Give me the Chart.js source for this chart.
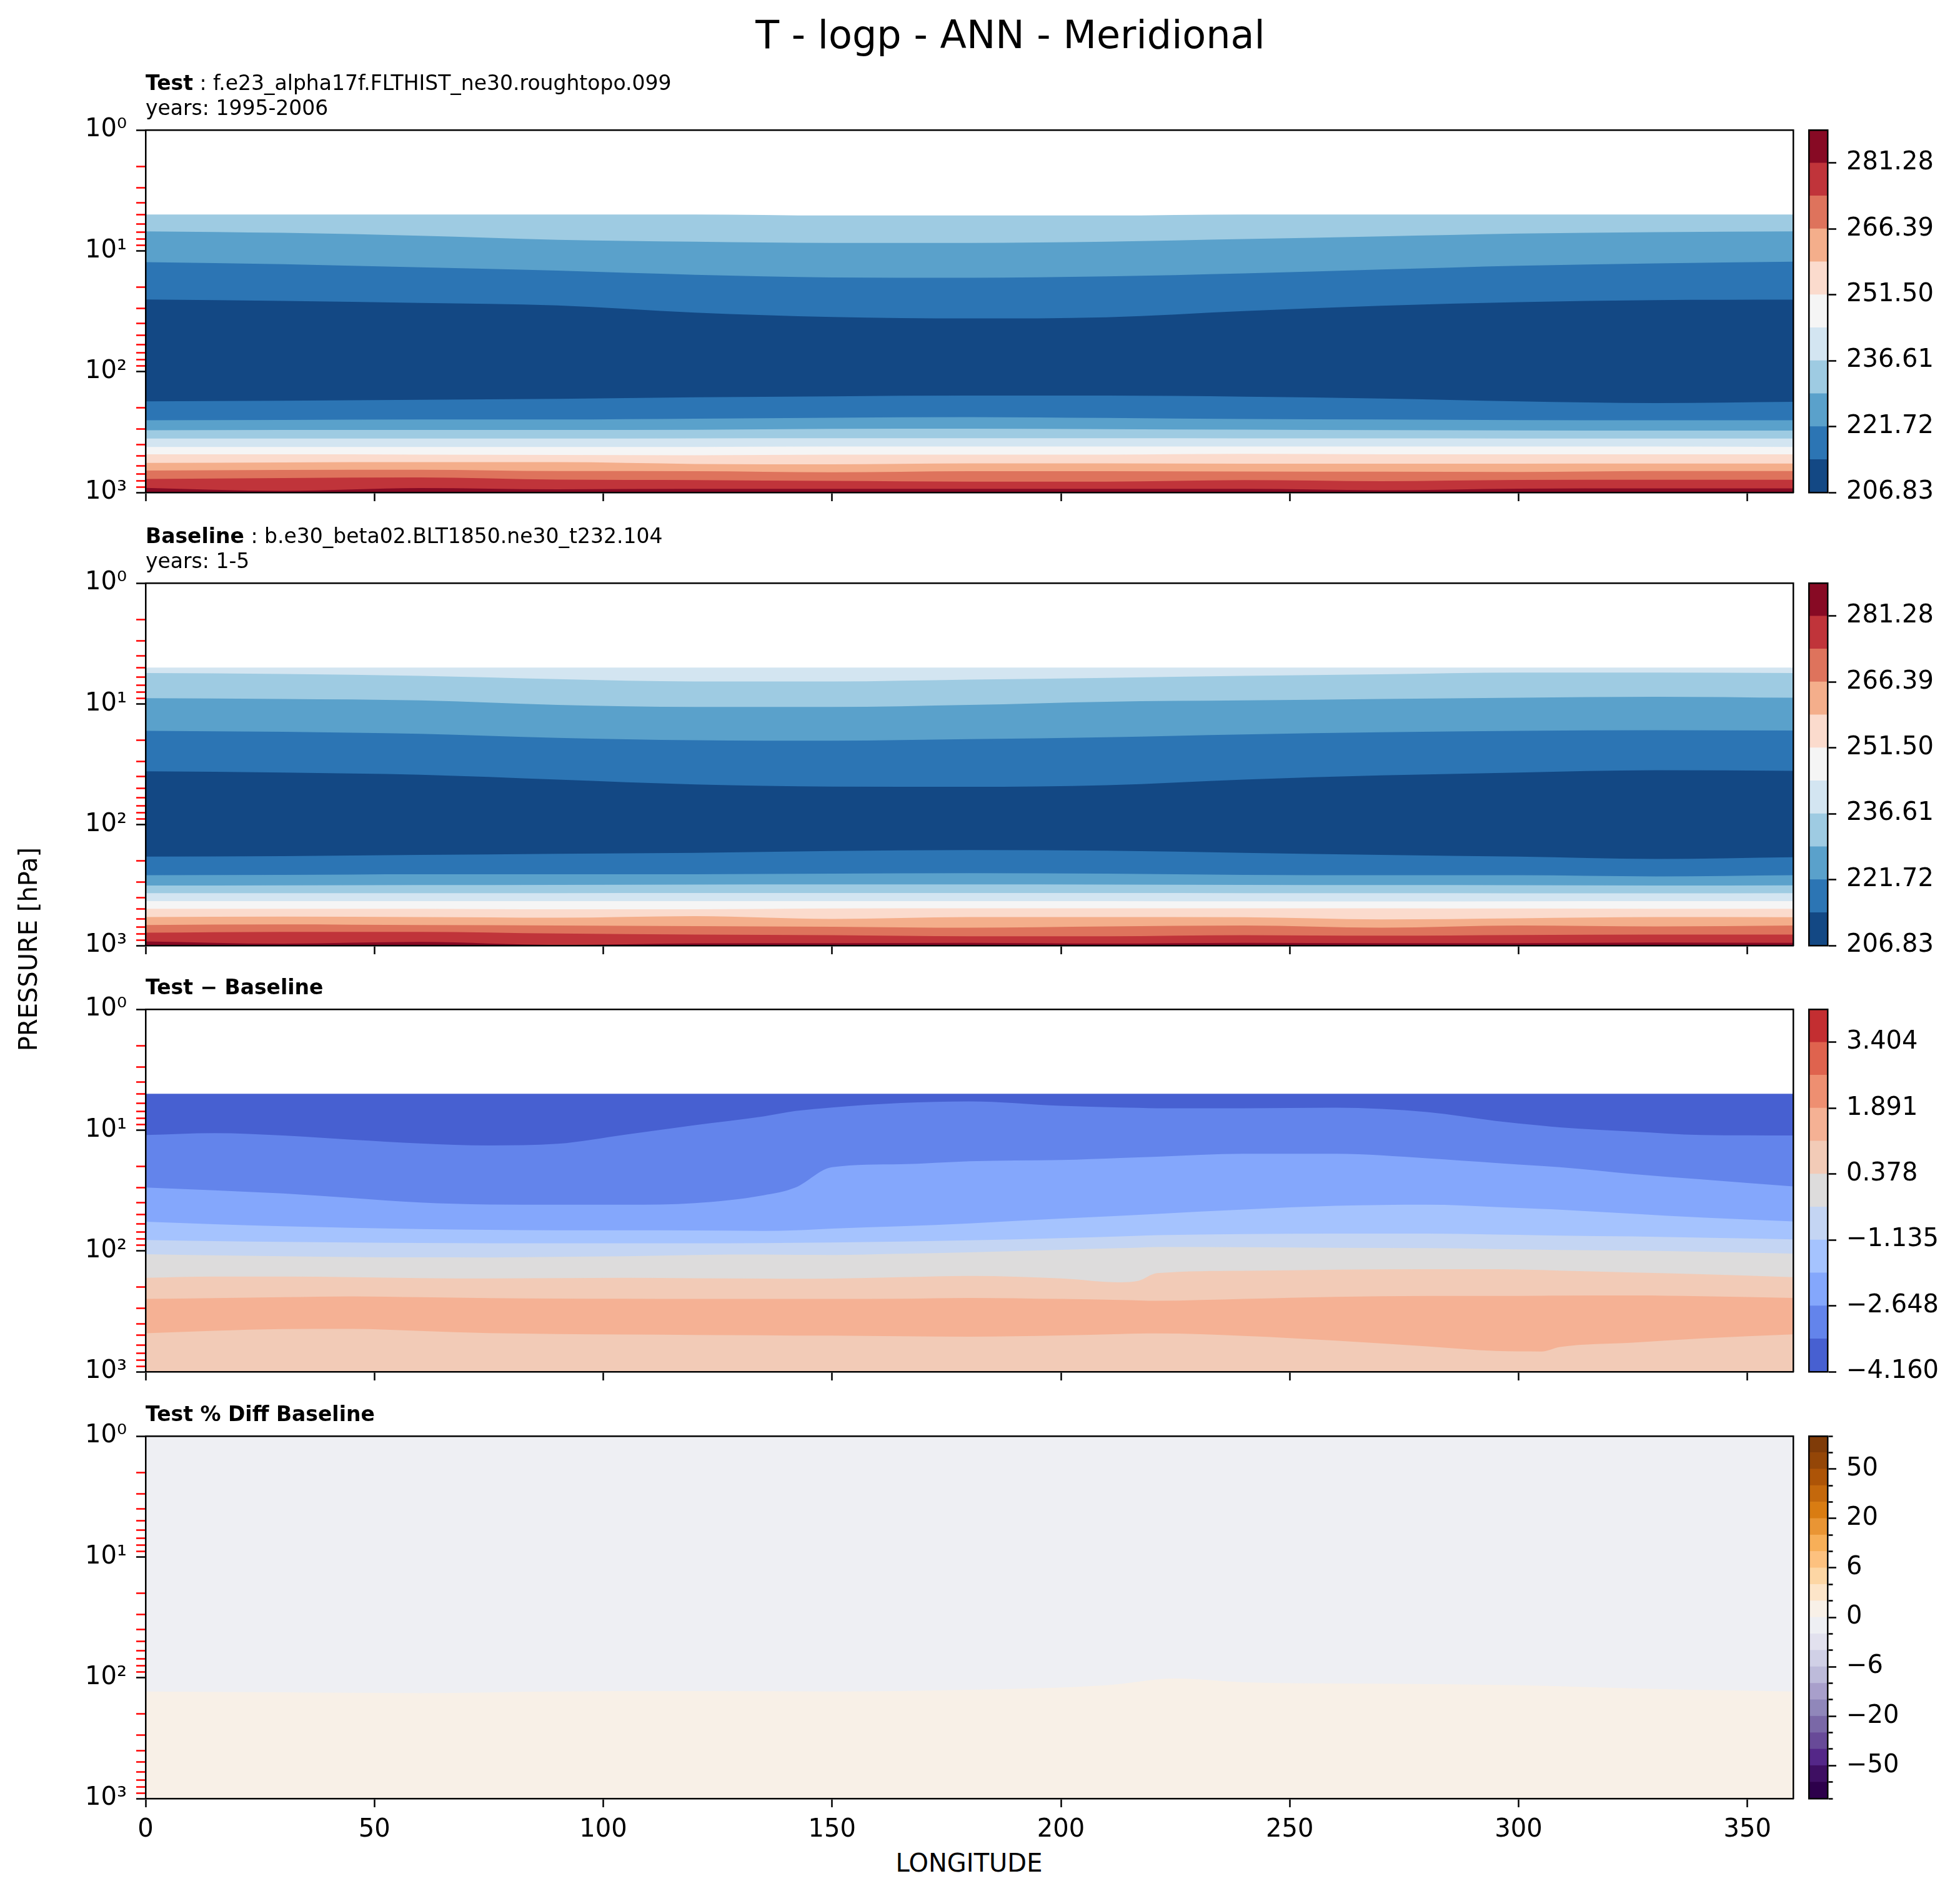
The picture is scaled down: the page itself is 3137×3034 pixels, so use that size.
<!DOCTYPE html>
<html>
<head>
<meta charset="utf-8">
<script src="https://cdn.jsdelivr.net/npm/chart.js@4/dist/chart.umd.min.js"></script>
<style>
  body { margin: 0; background: #fff; font-family: 'DejaVu Sans', sans-serif; }
  #fig { position: relative; width: 3137px; height: 3034px; overflow: hidden; background: #fff; }
  .txt { position: absolute; white-space: nowrap; color: #000; z-index: 5; }
  .sub { font-size: 33px; line-height: 40px; }
</style>
</head>
<body>
<div id="fig">
  <div class="txt" style="left:117px;width:3000px;top:25px;font-size:62px;line-height:62px;text-align:center">T - logp - ANN - Meridional</div>
  <div class="txt sub" style="left:233px;top:113px"><b>Test</b> : f.e23_alpha17f.FLTHIST_ne30.roughtopo.099<br>years: 1995-2006</div>
  <div class="txt sub" style="left:233px;top:838px"><b>Baseline</b> : b.e30_beta02.BLT1850.ne30_t232.104<br>years: 1-5</div>
  <div class="txt sub" style="left:233px;top:1560px"><b>Test &minus; Baseline</b></div>
  <div class="txt sub" style="left:233px;top:2243px"><b>Test % Diff Baseline</b></div>
  <div class="txt" style="left:1251px;width:600px;text-align:center;top:2961px;font-size:40px;line-height:40px">LONGITUDE</div>
  <div class="txt" style="left:-255px;width:600px;text-align:center;top:1499px;font-size:40px;line-height:40px;transform:rotate(-90deg)">PRESSURE [hPa]</div>
</div>
<script>
// sampled longitudes of the contour boundaries
const lonA = [0, 30, 60, 90, 120, 150, 180, 210, 240, 270, 300, 330, 360]
const lonD = [0, 15, 30, 45, 60, 75, 90, 105, 120, 135, 142, 150, 165, 180, 200, 213, 217, 221, 240, 260, 280, 295, 305, 309, 325, 340, 360]
const lonP = [0, 30, 60, 90, 120, 150, 180, 210, 225, 240, 270, 300, 330, 360]
const lonTicks = [0, 50, 100, 150, 200, 250, 300, 350]
const pressureDecades = [1, 10, 100, 1000]

// upper edge (hPa) of each filled band, top band first
const testBounds = [
  [5, 5, 5, 5, 5, 5.1, 5.1, 5.1, 5, 5, 5, 5, 5],
  [6.9, 7.1, 7.5, 8.1, 8.4, 8.6, 8.6, 8.4, 8.0, 7.6, 7.2, 7.0, 6.9],
  [12.4, 12.9, 13.7, 14.6, 15.8, 16.6, 16.7, 16.3, 15.4, 14.3, 13.3, 12.7, 12.3],
  [25.3, 26.0, 27.0, 28.3, 32.5, 35.3, 36.3, 35.5, 31.5, 28.5, 26.6, 25.6, 25.4],
  [176, 174, 171, 168, 163, 160, 158, 158, 161, 167, 176, 182, 178],
  [253, 251, 249, 249, 245, 241, 238, 242, 247, 249, 252, 253, 253],
  [306, 304, 304, 304, 303, 298, 297, 299, 302, 305, 307, 308, 308],
  [358, 358, 358, 358, 357, 356, 356, 356, 357, 357, 358, 358, 358],
  [420, 420, 420, 420, 420, 417, 417, 417, 417, 417, 417, 417, 420],
  [484, 484, 486, 490, 492, 487, 486, 486, 480, 484, 484, 484, 484],
  [570, 564, 562, 562, 581, 585, 575, 575, 578, 578, 578, 577, 577],
  [659, 652, 649, 666, 667, 682, 668, 667, 672, 674, 677, 666, 666],
  [773, 760, 752, 784, 790, 803, 814, 814, 790, 806, 788, 786, 786],
  [916, 970, 920, 942, 935, 935, 935, 935, 935, 960, 930, 925, 925]
]
const testColors = ['#9ecbe2', '#5aa1cb', '#2c75b4', '#134884', '#2c75b4', '#5aa1cb', '#9ecbe2', '#d3e5f1', '#f5f5f5', '#fbdbcd', '#f4ae8b', '#de735c', '#c0343a', '#870a24']

const baseBounds = [
  [5, 5, 5, 5, 5, 5, 5, 5, 5, 5, 5, 5, 5],
  [5.56, 5.65, 5.87, 6.25, 6.53, 6.53, 6.3, 6.09, 5.87, 5.69, 5.5, 5.5, 5.56],
  [8.97, 9.1, 9.37, 10.2, 10.6, 10.6, 10.2, 9.6, 9.37, 9.1, 8.9, 8.73, 8.9],
  [16.7, 17.0, 17.7, 19.1, 20.0, 20.2, 19.6, 18.9, 17.9, 17.2, 16.7, 16.5, 16.6],
  [36.2, 37, 38.6, 42.3, 46.4, 48.4, 48.6, 47.1, 42.3, 39.1, 37, 35.4, 35.8],
  [184, 182, 178, 174, 171, 165, 162, 164, 171, 178, 184, 192, 186],
  [262, 260, 257, 257, 257, 254, 252, 254, 260, 262, 262, 268, 262],
  [319, 318, 316, 315, 313, 312, 312, 313, 315, 316, 317, 319, 318],
  [369, 369, 369, 369, 368, 368, 368, 368, 369, 369, 370, 370, 369],
  [429, 429, 429, 429, 429, 429, 429, 429, 431, 432, 430, 429, 429],
  [496, 496, 496, 501, 501, 494, 492, 492, 492, 492, 494, 496, 496],
  [582, 577, 582, 589, 571, 602, 582, 582, 584, 608, 595, 582, 584],
  [678, 670, 678, 684, 692, 699, 713, 696, 684, 713, 684, 696, 684],
  [783, 771, 771, 796, 813, 822, 839, 839, 822, 830, 818, 813, 813],
  [925, 966, 935, 990, 960, 955, 950, 962, 950, 955, 955, 945, 950]
]
const baseColors = ['#d3e5f1', '#9ecbe2', '#5aa1cb', '#2c75b4', '#134884', '#2c75b4', '#5aa1cb', '#9ecbe2', '#d3e5f1', '#f5f5f5', '#fbdbcd', '#f4ae8b', '#de735c', '#c0343a', '#870a24']

const diffBounds = [
  [5, 5, 5, 5, 5, 5, 5, 5, 5, 5, 5, 5, 5, 5, 5, 5, 5, 5, 5, 5, 5, 5, 5, 5, 5, 5, 5],
  [11.0, 10.6, 11.1, 12.0, 12.9, 13.4, 13.0, 10.9, 9.1, 7.7, 6.95, 6.5, 5.97, 5.79, 6.3, 6.5, 6.55, 6.6, 6.6, 6.53, 7.1, 8.4, 9.2, 9.5, 10.3, 11.0, 11.1],
  [29.9, 31.5, 33.5, 36.5, 39.8, 41.3, 41.5, 41.5, 40.3, 34.7, 29.9, 20.3, 19.2, 18.1, 17.7, 17.0, 16.8, 16.6, 15.7, 15.7, 17.1, 18.7, 19.8, 20.3, 23.1, 25.6, 29.3],
  [57.4, 60.2, 62.5, 64.4, 65.9, 67, 67.6, 67.6, 67.8, 68.3, 67.5, 65.3, 62.5, 59.2, 54.1, 51.2, 50.3, 49.4, 45.5, 42.4, 41.5, 43.3, 44.9, 45.6, 49.3, 53, 57.1],
  [81.2, 83, 84.3, 85.3, 86.1, 86.5, 86.5, 86.5, 86.4, 86.2, 85.8, 85.3, 83.8, 81.8, 78.4, 75.8, 75, 74.2, 72.6, 72, 72, 73.2, 74.3, 74.7, 76, 77.8, 80.4],
  [106.5, 108.8, 110.6, 112.4, 113.2, 113.3, 112, 110.6, 108, 107.3, 107.8, 108, 105.5, 102.8, 98, 95, 94, 93, 93.2, 94.2, 95, 96.5, 97.8, 98.2, 99.4, 101.5, 105.4],
  [167, 163, 163, 165, 168, 169, 168, 167, 168.5, 169.5, 170, 169.5, 165, 161, 169, 182, 177, 153, 146, 143, 142, 142, 144, 145.5, 151, 156, 165],
  [250, 246, 242, 238, 242, 246, 248, 249, 250, 250, 250, 250, 249, 245, 250, 255, 257, 259, 250, 240, 236, 236, 235, 234.5, 234, 237.5, 245],
  [481, 459, 444, 442, 460, 480, 488, 493, 497, 500, 502, 503, 508, 513, 501, 488, 484, 482, 505, 553, 618, 674, 681, 625, 574, 530, 491]
]
const diffColors = ['#4760d1', '#6384eb', '#84a7fc', '#a5c3fe', '#c4d5f3', '#dddcdc', '#f2cbb7', '#f5b194', '#f2cbb7']

const pctBounds = [
  [1, 1, 1, 1, 1, 1, 1, 1, 1, 1, 1, 1, 1, 1],
  [130, 132, 134, 130, 129, 130, 126, 115.5, 101.7, 109, 112, 115.5, 124, 130]
]
const pctColors = ['#eeeff3', '#f8f0e7']

// colorbar levels, bottom to top
const tempLevels = [206.83, 214.275, 221.72, 229.165, 236.61, 244.055, 251.50, 258.945, 266.39, 273.835, 281.28, 288.725]
const tempBarColors = ['#134884', '#2c75b4', '#5aa1cb', '#9ecbe2', '#d3e5f1', '#f5f5f5', '#fbdbcd', '#f4ae8b', '#de735c', '#c0343a', '#870a24']
const diffLevels = [-4.160, -3.404, -2.648, -1.891, -1.135, -0.378, 0.378, 1.135, 1.891, 2.648, 3.404, 4.160]
const diffBarColors = ['#4760d1', '#6384eb', '#84a7fc', '#a5c3fe', '#c4d5f3', '#dddcdc', '#f2cbb7', '#f5b194', '#ee8f71', '#df634e', '#c32e31']
const pctLevels = [-100, -75, -50, -40, -30, -20, -15, -10, -6, -4, -2, 0, 2, 4, 6, 10, 15, 20, 30, 40, 50, 75, 100]
const pctBarColors = ['#2d004b', '#3e0f62', '#542788', '#684a98', '#7a68a7', '#9087ba', '#a89fcb', '#bdbbda', '#d0d0e6', '#e2e1ee', '#eeeff3', '#f8f0e7', '#fde5c9', '#fdd6a4', '#fdc17f', '#f7af58', '#e99534', '#d97c12', '#c4680c', '#ad5407', '#944607', '#7f3b08']

// layout
const PLOT_L = 233, PLOT_W = 2637, PLOT_H = 580
const panelTops = [208, 933, 1615, 2298]
const YAXIS_W = 200, PAD_T = 50, PAD_R = 4
const CBAR_L = 2895, CBAR_W = 30, CBAR_AXIS_W = 240
const LINE_W = 2.5
const SUP = ['\u2070', '\u00b9', '\u00b2', '\u00b3']

Chart.defaults.font.family = "'DejaVu Sans', sans-serif"
Chart.defaults.color = '#000'

let fig = document.getElementById('fig')

function addCanvas(left, top, width, height) {
  let c = document.createElement('canvas')
  c.width = width
  c.height = height
  c.style.position = 'absolute'
  c.style.left = left + 'px'
  c.style.top = top + 'px'
  c.style.width = width + 'px'
  c.style.height = height + 'px'
  fig.appendChild(c)
  return c.getContext('2d')
}

function isDecade(v) {
  let l = Math.log10(v)
  return Math.abs(l - Math.round(l)) < 1e-9
}

let pressureTicks = []
for (let d of pressureDecades.slice(0, -1)) {
  for (let m = 1; m < 10; m++) pressureTicks.push(d * m)
}
pressureTicks.push(pressureDecades[pressureDecades.length - 1])

function border() {
  return {display: true, color: '#000', width: LINE_W, z: 1}
}

// axis used only to draw the remaining sides of the frame
function frameAxis(position) {
  return {
    type: 'linear', position: position, min: 0, max: 1,
    ticks: {display: false}, grid: {display: false}, border: border(),
    afterFit: s => { if (s.isHorizontal()) s.height = 0; else s.width = 0 }
  }
}

function drawPanel(top, lons, bounds, colors, showX) {
  let xh = showX ? 80 : PAD_T
  let ctx = addCanvas(PLOT_L - YAXIS_W, top - PAD_T, YAXIS_W + PLOT_W + PAD_R, PAD_T + PLOT_H + xh)
  // each band is filled from its upper edge down to 1000 hPa, lower bands painted last
  let datasets = bounds.map((ps, k) => ({
    data: lons.map((x, i) => ({x: x, y: ps[i]})),
    backgroundColor: colors[k],
    borderWidth: 0,
    pointRadius: 0,
    pointHoverRadius: 0,
    fill: {value: 1000},
    cubicInterpolationMode: 'monotone',
    order: -k
  }))
  new Chart(ctx, {
    type: 'line',
    data: {datasets: datasets},
    options: {
      responsive: false, animation: false, events: [],
      layout: {padding: {top: PAD_T, right: PAD_R, left: 0, bottom: 0}},
      plugins: {legend: {display: false}, tooltip: {enabled: false}},
      scales: {
        x: {
          type: 'linear', min: 0, max: 360,
          afterBuildTicks: s => { s.ticks = lonTicks.map(v => ({value: v})) },
          afterFit: s => { s.height = xh },
          ticks: {autoSkip: false, maxRotation: 0, padding: 13, font: {size: 40}, callback: v => showX ? String(v) : ''},
          grid: {drawOnChartArea: false, tickLength: 14, tickWidth: LINE_W, tickColor: '#000'},
          border: border()
        },
        y: {
          type: 'logarithmic', reverse: true, min: 1, max: 1000,
          afterBuildTicks: s => { s.ticks = pressureTicks.map(v => ({value: v})) },
          afterFit: s => { s.width = YAXIS_W },
          ticks: {autoSkip: false, padding: 15, font: {size: 40},
            callback: v => isDecade(v) ? '10' + SUP[Math.round(Math.log10(v))] : ''},
          grid: {drawOnChartArea: false, tickLength: 15, tickWidth: LINE_W,
            tickColor: c => isDecade(c.tick.value) ? '#000' : '#ff0000'},
          border: border()
        },
        x2: frameAxis('top'),
        y2: frameAxis('right')
      }
    }
  })
}

function drawColorbar(top, levels, colors, tickIdx, labelIdx, fmt) {
  let ctx = addCanvas(CBAR_L - PAD_R, top - PAD_T, PAD_R + CBAR_W + CBAR_AXIS_W, PAD_T + PLOT_H + PAD_T)
  new Chart(ctx, {
    type: 'bar',
    data: {
      labels: [''],
      datasets: colors.map(c => ({data: [1], backgroundColor: c, borderWidth: 0, barPercentage: 1, categoryPercentage: 1}))
    },
    options: {
      responsive: false, animation: false, events: [],
      layout: {padding: {top: PAD_T, bottom: PAD_T, left: PAD_R, right: 0}},
      plugins: {legend: {display: false}, tooltip: {enabled: false}},
      scales: {
        x: {
          type: 'category', stacked: true,
          ticks: {display: false}, grid: {display: false}, border: border(),
          afterFit: s => { s.height = 0 }
        },
        y: {
          type: 'linear', position: 'right', stacked: true, min: 0, max: colors.length,
          afterBuildTicks: s => { s.ticks = tickIdx.map(v => ({value: v})) },
          afterFit: s => { s.width = CBAR_AXIS_W },
          ticks: {autoSkip: false, padding: 16, font: {size: 40},
            callback: v => labelIdx.includes(v) ? fmt(levels[v]) : ''},
          grid: {drawOnChartArea: false, tickLength: 14, tickWidth: LINE_W, tickColor: '#000',
            tickBorderDash: c => labelIdx.includes(c.tick.value) ? [] : [7, 40]},
          border: border()
        },
        x2: frameAxis('top'),
        y2: frameAxis('left')
      }
    }
  })
}

function signed(v, digits) {
  return (v < 0 ? '\u2212' : '') + Math.abs(v).toFixed(digits)
}

let everyOther = [0, 2, 4, 6, 8, 10]
let pctAll = pctLevels.map((v, i) => i)
let pctMajor = [2, 5, 8, 11, 14, 17, 20]

drawPanel(panelTops[0], lonA, testBounds, testColors, false)
drawPanel(panelTops[1], lonA, baseBounds, baseColors, false)
drawPanel(panelTops[2], lonD, diffBounds, diffColors, false)
drawPanel(panelTops[3], lonP, pctBounds, pctColors, true)

drawColorbar(panelTops[0], tempLevels, tempBarColors, everyOther, everyOther, v => v.toFixed(2))
drawColorbar(panelTops[1], tempLevels, tempBarColors, everyOther, everyOther, v => v.toFixed(2))
drawColorbar(panelTops[2], diffLevels, diffBarColors, everyOther, everyOther, v => signed(v, 3))
drawColorbar(panelTops[3], pctLevels, pctBarColors, pctAll, pctMajor, v => signed(v, 0))
</script>
</body>
</html>
